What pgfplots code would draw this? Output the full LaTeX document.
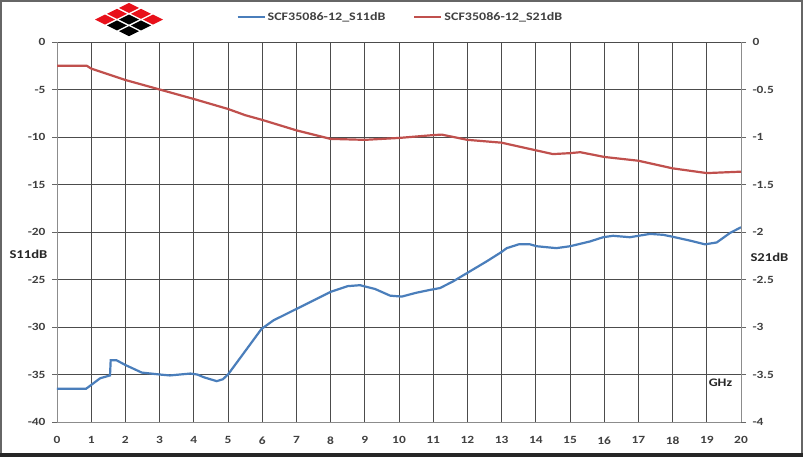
\documentclass[border=0pt]{standalone}
\usepackage{pgfplots}
\pgfplotsset{compat=1.18}
\usepackage{fontspec}
\setmainfont{Carlito}[FakeStretch=1.22]
\definecolor{sblue}{HTML}{4A7EBB}
\definecolor{sred}{HTML}{C0504D}
\definecolor{lbl}{HTML}{404040}
\definecolor{lred}{HTML}{E8101A}

\begin{document}
\begin{tikzpicture}[x=1pt,y=1pt]
\useasboundingbox (0,0) rectangle (803,457);
\fill[white] (0,0) rectangle (803,457);
% frame
\draw[black!60, line width=2pt] (1,4) -- (1,456) -- (802,456) -- (802,4);
\fill[black!85] (0,0) rectangle (803,4);

% logo
\foreach \i in {0,1,2}{
  \foreach \j in {0,1,2}{
    \pgfmathsetmacro{\cx}{129+12*(\j-\i)}
    \pgfmathsetmacro{\cy}{457-8-5.8*(\i+\j)}
    \ifnum\i=0 \def\col{lred}\else\ifnum\j=0 \def\col{lred}\else\def\col{black}\fi\fi
    \fill[\col] (\cx-10,\cy) -- (\cx,\cy+5) -- (\cx+10,\cy) -- (\cx,\cy-5) -- cycle;
  }
}

\begin{axis}[
  at={(57pt,35pt)}, anchor=south west,
  scale only axis, width=684pt, height=380pt,
  xmin=0, xmax=20, ymin=-40, ymax=0,
  xtick={0,1,...,20}, ytick={-40,-35,...,0},
  grid=major,
  major grid style={black!70, line width=0.8pt},
  axis line style={black!45, line width=0.8pt},
  axis y line*=left, axis x line*=bottom,
  tick align=outside, major tick length=5pt,
  tick style={black!60, line width=0.8pt},
  xtick style={draw=none},
  ticklabel style={font=\fontsize{11}{13}\selectfont\bfseries, text=lbl},
  /pgf/number format/assume math mode=true,
  xticklabel style={yshift=-6pt},
  yticklabel style={xshift=-3pt},
  clip=false,
  legend columns=2,
  legend style={at={(0.258,1.066)}, anchor=west, draw=none, fill=none,
    font=\fontsize{11.5}{13}\selectfont\bfseries, text=lbl,
    /tikz/every even column/.append style={column sep=26pt}},
  legend image code/.code={\draw[#1, line width=2pt] (0pt,0pt) -- (27pt,0pt);},
]
\addplot[sblue, line width=2.2pt] coordinates {
(0,-36.5) (0.85,-36.5) (1,-36.1) (1.26,-35.4) (1.55,-35.1) (1.57,-33.5) (1.74,-33.5)
(2,-34.0) (2.48,-34.8) (3,-35.0) (3.3,-35.1) (3.9,-34.9) (4.1,-35.0) (4.3,-35.3)
(4.67,-35.7) (4.85,-35.5) (5,-35.0) (5.45,-32.8) (5.98,-30.2) (6.33,-29.3) (7,-28.1)
(7.5,-27.2) (8,-26.3) (8.5,-25.7) (8.86,-25.6) (9.3,-26.0) (9.74,-26.7) (10.08,-26.8)
(10.5,-26.4) (10.9,-26.1) (11.2,-25.9) (11.58,-25.2) (12,-24.3) (12.56,-23.1) (13,-22.1)
(13.15,-21.7) (13.5,-21.3) (13.83,-21.3) (14.03,-21.5) (14.6,-21.7) (15,-21.5)
(15.58,-21.0) (15.97,-20.55) (16.26,-20.4) (16.75,-20.55) (17.34,-20.2) (17.73,-20.3)
(18,-20.5) (18.5,-20.9) (18.95,-21.3) (19.29,-21.1) (19.68,-20.1) (20,-19.5)
};
\addlegendentry{SCF35086-12\_S11dB}
\addlegendimage{sred, line width=2.2pt}
\addlegendentry{SCF35086-12\_S21dB}
\node[font=\fontsize{11.5}{13}\selectfont\bfseries, text=black!85] at (axis cs:19.4,-35.9) {GHz};
\node[font=\fontsize{12}{14}\selectfont\bfseries, text=black!85, anchor=west] at ([xshift=-51pt]axis cs:0,-22.4) {S11dB};
\end{axis}

\begin{axis}[
  at={(57pt,35pt)}, anchor=south west,
  scale only axis, width=684pt, height=380pt,
  xmin=0, xmax=20, ymin=-4, ymax=0,
  ytick={-4,-3.5,...,0},
  axis x line=none, axis y line*=right,
  axis line style={black!45, line width=0.8pt},
  tick align=outside, major tick length=5pt,
  tick style={black!60, line width=0.8pt},
  ticklabel style={font=\fontsize{11}{13}\selectfont\bfseries, text=lbl},
  /pgf/number format/assume math mode=true,
  yticklabel style={xshift=3pt},
  clip=false,
]
\addplot[sred, line width=2.2pt] coordinates {
(0,-0.25) (0.87,-0.25) (1,-0.28) (2,-0.40) (3,-0.50) (4,-0.60) (5,-0.705) (5.5,-0.77)
(6,-0.82) (7,-0.93) (8,-1.02) (9,-1.03) (10,-1.01) (11,-0.98) (11.25,-0.975) (12,-1.03)
(13,-1.06) (14,-1.14) (14.5,-1.18) (15,-1.17) (15.3,-1.16) (16,-1.21) (17,-1.25)
(18,-1.33) (18.5,-1.355) (19,-1.38) (20,-1.365)
};
\node[font=\fontsize{12}{14}\selectfont\bfseries, text=black!85, anchor=west] at ([xshift=6pt]axis cs:20,-2.27) {S21dB};
\end{axis}
\end{tikzpicture}
\end{document}
